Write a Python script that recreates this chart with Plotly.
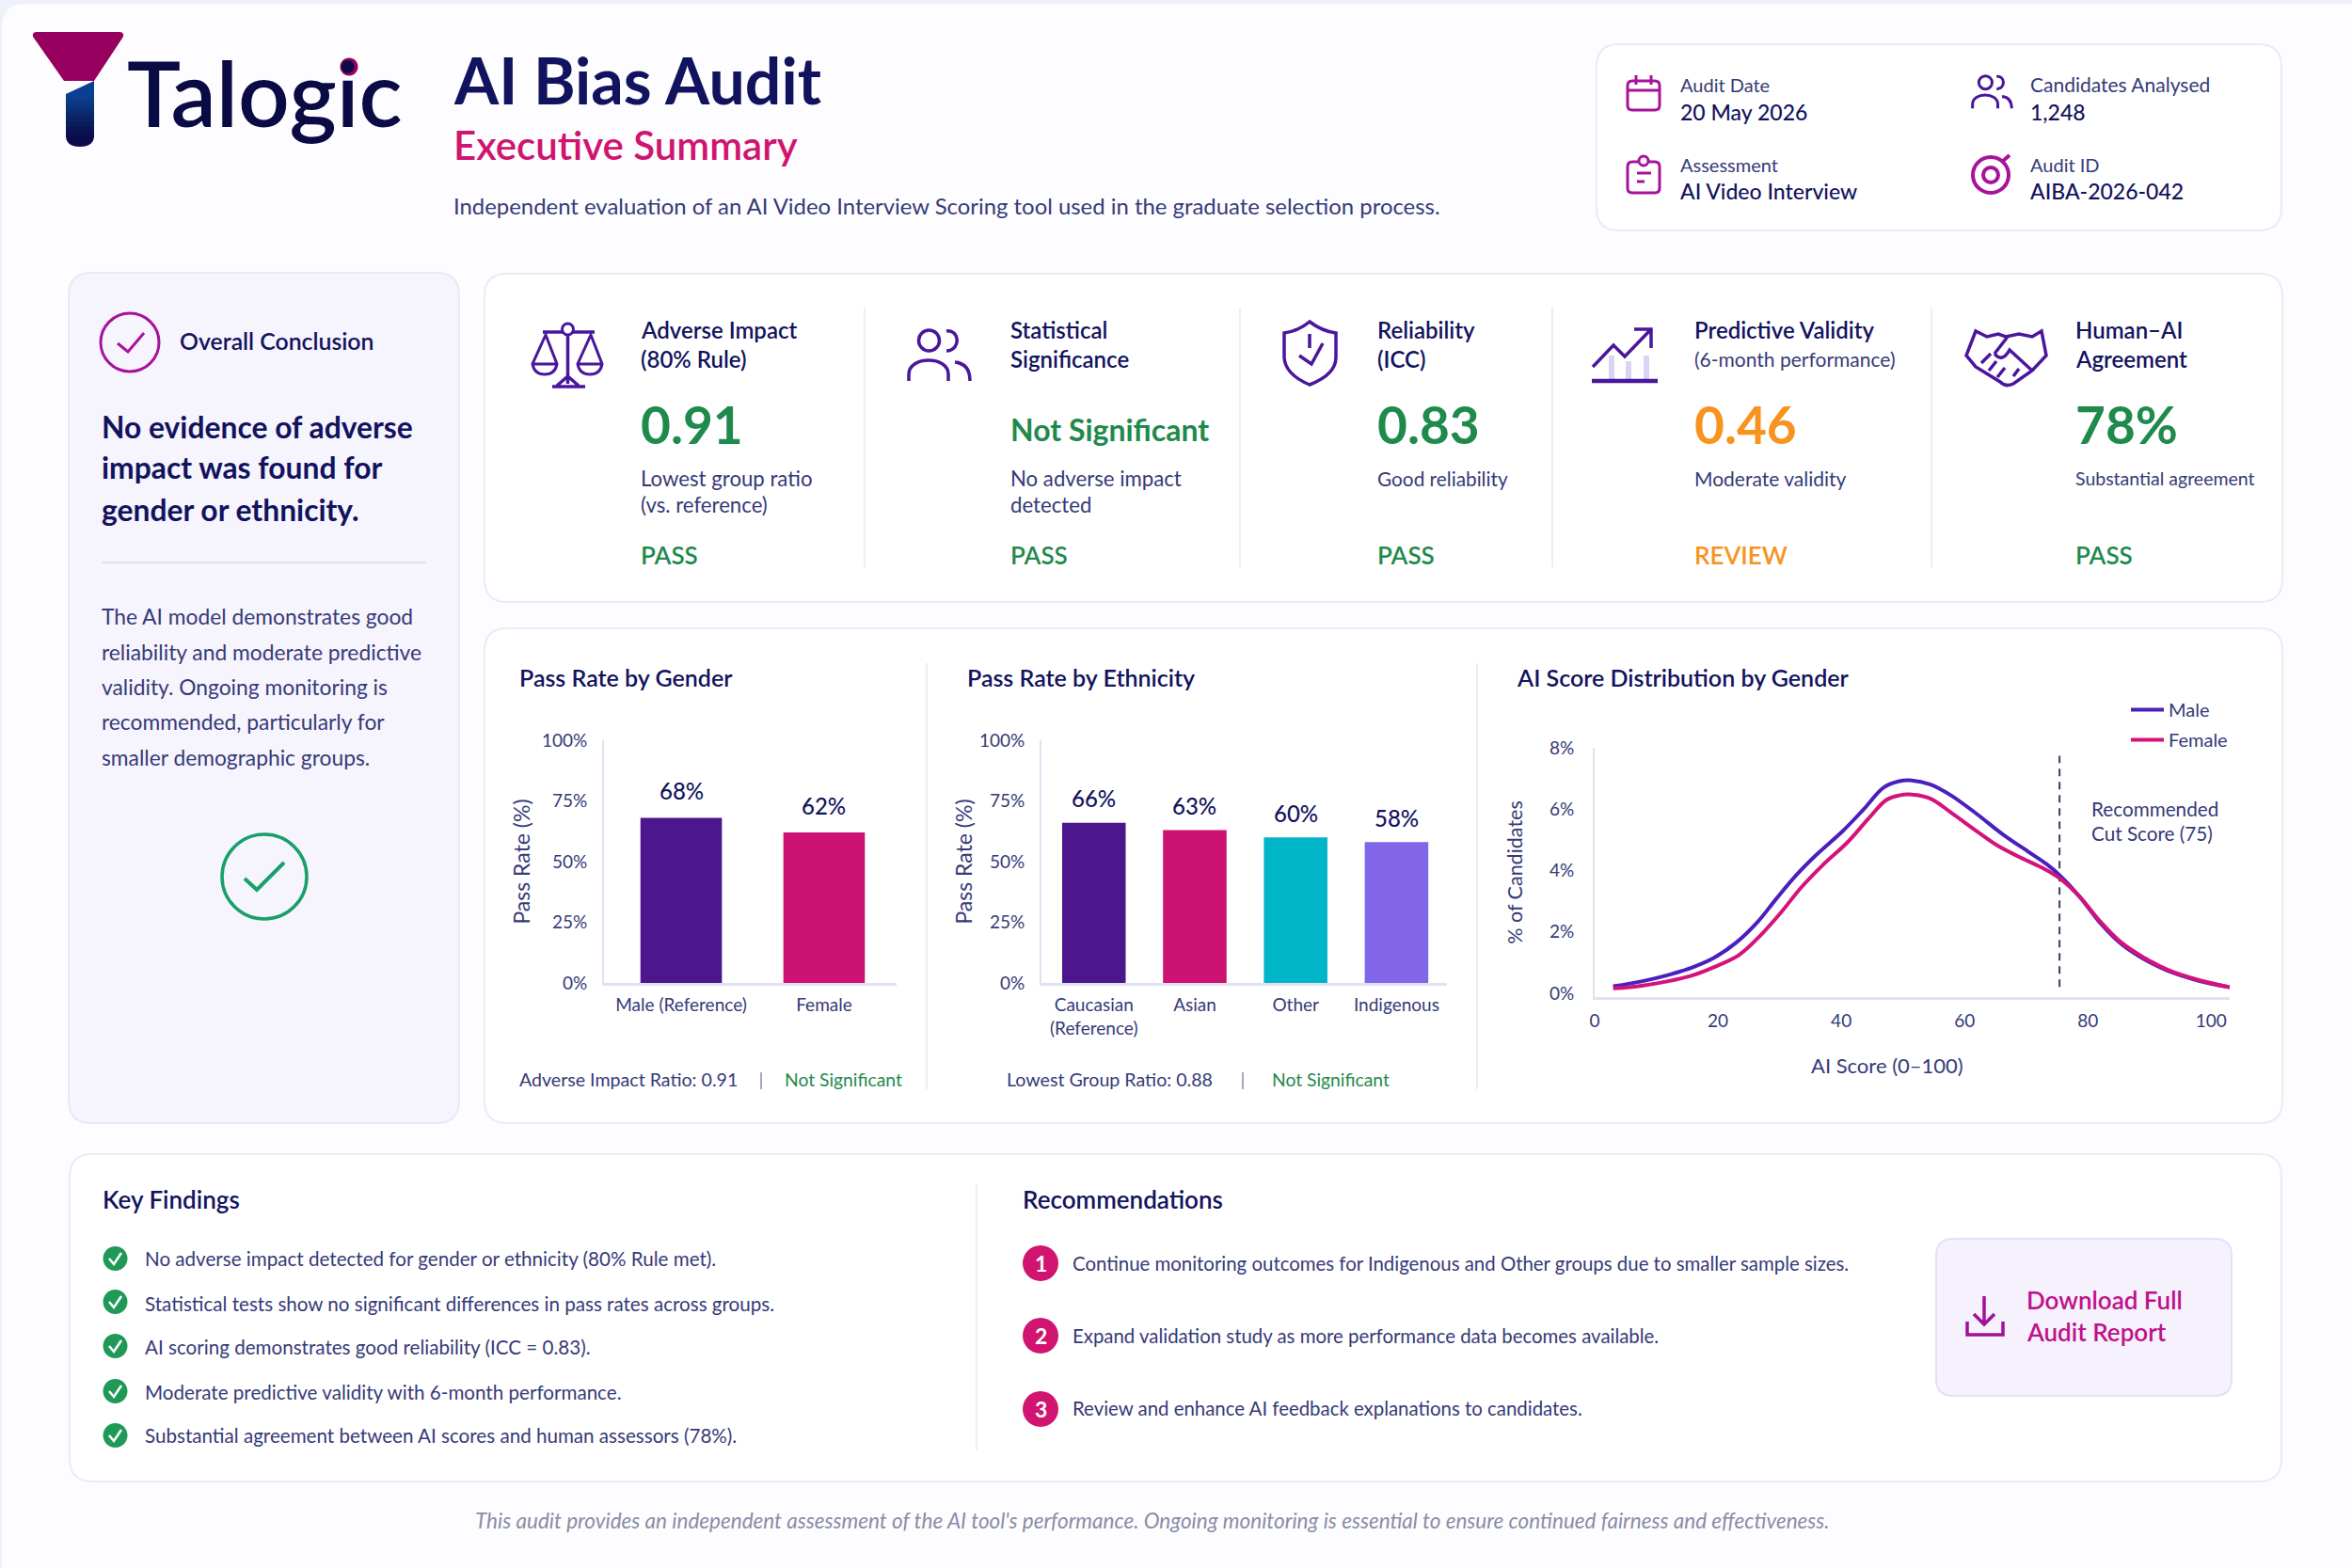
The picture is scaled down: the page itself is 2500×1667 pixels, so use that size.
import re
import plotly.graph_objects as go

W, H = 2500, 1667
FONT = "Lato"
NAVY = "#12135e"
BODY = "#363a78"
GREEN = "#1f8a4c"
ORANGE = "#f7931e"
PINK = "#d0146f"
PURPLE = "#4a169c"
MAGENTA = "#a8129b"
PANEL_LINE = "#e9ebf6"

# bar data
gender_groups = ["Male (Reference)", "Female"]
gender_rates = [68, 62]
gender_colors = ["#4c168c", "#cc1272"]
ethnicity_groups = ["Caucasian<br>(Reference)", "Asian", "Other", "Indigenous"]
ethnicity_rates = [66, 63, 60, 58]
ethnicity_colors = ["#4c168c", "#cc1272", "#00b5c8", "#8266e8"]

# score distribution curves
score_x_male = [3.0, 7.6, 11.75, 15.9, 19.3, 23.0, 26.4, 29.3, 32.7, 36.0, 40.2, 43.6, 46.9, 49.4, 51.1,
                54.4, 57.8, 62.0, 66.2, 70.3, 73.3, 75.4, 78.7, 82.1, 85.4, 88.8, 92.9, 98.0, 103.0]
score_male = [0.23, 0.39, 0.59, 0.85, 1.15, 1.66, 2.32, 3.04, 3.85, 4.52, 5.28, 5.99, 6.71, 6.91, 6.94,
              6.81, 6.45, 5.84, 5.18, 4.62, 4.21, 3.85, 3.14, 2.27, 1.61, 1.15, 0.74, 0.41, 0.20]
score_x_female = [3.0, 7.6, 11.75, 15.9, 19.3, 23.4, 26.8, 30.2, 33.5, 36.9, 41.0, 44.4, 47.3, 49.4, 51.1,
                  54.4, 57.8, 62.0, 65.3, 68.7, 72.4, 75.4, 78.7, 82.1, 85.4, 88.8, 92.9, 98.0, 103.0]
score_female = [0.16, 0.25, 0.39, 0.59, 0.85, 1.25, 1.87, 2.63, 3.45, 4.16, 4.92, 5.69, 6.30, 6.45, 6.48,
                6.35, 5.89, 5.28, 4.82, 4.46, 4.11, 3.75, 3.14, 2.32, 1.66, 1.20, 0.77, 0.43, 0.20]
cut_x = [75.4, 75.4]
cut_y = [0.21, 7.74]

# text content
kpi_titles = [["Adverse Impact", "(80% Rule)"], ["Statistical", "Significance"], ["Reliability", "(ICC)"],
              ["Predictive Validity", "(6-month performance)"], ["Human–AI", "Agreement"]]
kpi_values = ["0.91", "Not Significant", "0.83", "0.46", "78%"]
kpi_notes = [["Lowest group ratio", "(vs. reference)"], ["No adverse impact", "detected"], ["Good reliability"],
             ["Moderate validity"], ["Substantial agreement"]]
kpi_note_sizes = [22.2, 22.2, 20.8, 21, 19.5]
kpi_status = ["PASS", "PASS", "PASS", "REVIEW", "PASS"]
findings = ["No adverse impact detected for gender or ethnicity (80% Rule met).",
            "Statistical tests show no significant differences in pass rates across groups.",
            "AI scoring demonstrates good reliability (ICC = 0.83).",
            "Moderate predictive validity with 6-month performance.",
            "Substantial agreement between AI scores and human assessors (78%)."]
recommendations = ["Continue monitoring outcomes for Indigenous and Other groups due to smaller sample sizes.",
                   "Expand validation study as more performance data becomes available.",
                   "Review and enhance AI feedback explanations to candidates."]

shapes = []
notes = []


def to_paper(d, ox=0, oy=0, s=1):
    out = []
    is_x = True
    for tok in re.findall(r"[MLCQZ]|-?\d+\.?\d*", d):
        if tok in "MLCQZ":
            out.append(tok)
            is_x = True
        elif is_x:
            out.append(f"{(ox + float(tok) * s) / W:.5f}")
            is_x = False
        else:
            out.append(f"{1 - (oy + float(tok) * s) / H:.5f}")
            is_x = True
    return " ".join(out)


def draw(d, color=None, lw=3, fill=None, ox=0, oy=0, s=1):
    shapes.append(dict(type="path", xref="paper", yref="paper", layer="below", path=to_paper(d, ox, oy, s),
                       fillcolor=fill or "rgba(0,0,0,0)",
                       line=dict(color=color or "rgba(0,0,0,0)", width=lw if color else 0)))


def rrect(x0, y0, x1, y1, r):
    return (f"M{x0 + r},{y0} L{x1 - r},{y0} Q{x1},{y0} {x1},{y0 + r} L{x1},{y1 - r} Q{x1},{y1} {x1 - r},{y1} "
            f"L{x0 + r},{y1} Q{x0},{y1} {x0},{y1 - r} L{x0},{y0 + r} Q{x0},{y0} {x0 + r},{y0} Z")


def circ(cx, cy, r):
    k = 0.5523 * r
    return (f"M{cx + r},{cy} C{cx + r},{cy + k} {cx + k},{cy + r} {cx},{cy + r} "
            f"C{cx - k},{cy + r} {cx - r},{cy + k} {cx - r},{cy} "
            f"C{cx - r},{cy - k} {cx - k},{cy - r} {cx},{cy - r} "
            f"C{cx + k},{cy - r} {cx + r},{cy - k} {cx + r},{cy} Z")


def txt(x, y, text, size, color=BODY, weight=400, anchor="left", italic=False):
    notes.append(dict(xref="paper", yref="paper", x=(x - 1.5) / W, y=1 - (y - 2) / H, text=text, showarrow=False,
                      xanchor=anchor, yanchor="middle", align="left", borderpad=0,
                      font=dict(family=FONT, size=size, color=color, weight=weight,
                                style="italic" if italic else "normal")))


def people(ox, oy, s, color, lw):
    d = (circ(22.5, 12, 11) + " M41,2 C55,0 57,22 41,23 "
         "M1,55 L1,48 C1,28 43,28 43,48 L43,55 M50,35 C60,36 66,42 66,55")
    draw(d, color, lw, ox=ox, oy=oy, s=s)


# page and panels
draw(rrect(2, 4, 2520, 1690, 26), fill="#fdfdff")
draw(rrect(1697, 47, 2425, 245, 24), PANEL_LINE, 2, "#ffffff")
draw(rrect(73, 290, 488, 1194, 24), "#e9e8f6", 2, "#f6f4fd")
draw(rrect(515, 291, 2426, 640, 24), PANEL_LINE, 2, "#ffffff")
draw(rrect(515, 668, 2426, 1194, 24), PANEL_LINE, 2, "#ffffff")
draw(rrect(74, 1227, 2425, 1575, 24), PANEL_LINE, 2, "#ffffff")

# logo
draw("M39,34 L127,34 Q132,34 131,39 L100,86 L68,86 L35,39 Q34,34 39,34 Z", fill="#98005f")
stem = ["#0a3f92", "#0a3a88", "#0a347e", "#0a2e74", "#0a286a", "#0a2262", "#0a1c5a", "#0a1654", "#0a1050"]
for i, c in enumerate(stem):
    draw(f"M70,{100 + i * 5} L100,{100 + i * 5} L100,{106 + i * 5} L70,{106 + i * 5} Z", fill=c)
draw("M70,100 L100,86 L100,101 L70,101 Z", fill="#0a3f92")
draw("M70,144 L100,144 Q100,156 85,156 Q70,156 70,144 Z", fill="#0a0a4c")
txt(135, 100, "Talogic", 96, "#0a0a44", 600)
draw(circ(371, 71, 9.5), fill="#98005f")

# header text
txt(482, 87, "AI Bias Audit", 68, NAVY, 700)
txt(482, 156, "Executive Summary", 42, PINK, 600)
txt(482, 221, "Independent evaluation of an AI Video Interview Scoring tool used in the graduate selection process.", 23.9)

# info card
txt(1786, 92, "Audit Date", 20)
txt(1786, 121, "20 May 2026", 23, NAVY, 500)
txt(1786, 177, "Assessment", 20)
txt(1786, 205, "AI Video Interview", 23, NAVY, 500)
txt(2158, 92, "Candidates Analysed", 21)
txt(2158, 121, "1,248", 23, NAVY, 500)
txt(2158, 177, "Audit ID", 20)
txt(2158, 205, "AIBA-2026-042", 23, NAVY, 500)
draw(rrect(1730, 86, 1764, 117, 5) + " M1730,96 L1764,96 M1739,80 L1739,90 M1755,80 L1755,90", MAGENTA, 3)
draw(rrect(1730, 172, 1764, 205, 5) + " M1740,184 L1755,184 M1740,193 L1748,193", MAGENTA, 3)
draw(circ(1747, 171, 5), MAGENTA, 3, "#ffffff")
people(2096, 80, 0.64, PURPLE, 3)
draw(circ(2116, 186, 19) + " " + circ(2116, 186, 8) + " M2128,172 L2136,165", MAGENTA, 4)

# overall conclusion panel
draw(circ(138, 364, 31), MAGENTA, 3)
draw("M125,365 L136,374 L153,354", MAGENTA, 3)
txt(191, 364, "Overall Conclusion", 24.8, NAVY, 600)
for y, line in zip([456, 499, 544], ["No evidence of adverse", "impact was found for", "gender or ethnicity."]):
    txt(108, y, line, 31.8, NAVY, 700)
draw("M108,598 L453,598", "#e0dff0", 2)
body_lines = ["The AI model demonstrates good", "reliability and moderate predictive", "validity. Ongoing monitoring is",
              "recommended, particularly for", "smaller demographic groups."]
for y, line in zip([657, 695, 732, 769, 807], body_lines):
    txt(108, y, line, 22.8)
draw(circ(281, 932, 45), "#18a06a", 3.5)
draw("M260,934 L273,946 L302,917", "#18a06a", 4)

# KPI strip
kpi_x = [681, 1074, 1464, 1802, 2206]
for x in [919, 1318, 1650, 2053]:
    draw(f"M{x},327 L{x},603", "#eceef7", 2)
for i, x in enumerate(kpi_x):
    txt(x, 352, kpi_titles[i][0], 24, NAVY, 600)
    if i == 3:
        txt(x, 383, kpi_titles[i][1], 21, BODY)
    else:
        txt(x, 383, kpi_titles[i][1], 24, NAVY, 600)
    status_color = ORANGE if kpi_status[i] == "REVIEW" else GREEN
    if i == 1:
        txt(x, 458, kpi_values[i], 32, status_color, 700)
    else:
        txt(x, 453, kpi_values[i], 55, status_color, 700)
    for y, line in zip([510, 538], kpi_notes[i]):
        txt(x, y, line, kpi_note_sizes[i])
    txt(x, 592, kpi_status[i], 26, status_color, 600)

# scales
draw("M577,353 L632,353 M603.5,356 L603.5,408 M587,411 L622,411 M592,410 L603.5,400 L615,410", PURPLE, 3.5)
draw(circ(603.5, 350, 6), PURPLE, 3, "#ffffff")
for dx in [0, 48]:
    draw(f"M{580 + dx},356 L{566 + dx},387 Q{568 + dx},398 {579 + dx},398 Q{590 + dx},398 {592 + dx},387 Z "
         f"M{566 + dx},387 L{592 + dx},387", PURPLE, 3)
people(965, 350, 1.0, PURPLE, 3.5)
# shield
draw("M1392,342 Q1380,352 1365,354 L1365,380 Q1366,398 1392,409 Q1420,398 1420,380 L1420,354 Q1405,352 1392,342 Z "
     "M1381,378 L1394,387 L1406,365 M1392,355 L1392,370", PURPLE, 3.5)
# trend chart
for bx in [1713, 1731, 1750]:
    draw(f"M{bx},403 L{bx},{378 if bx != 1731 else 384}", "#dcd2f6", 6)
draw("M1692,405 L1762,405", PURPLE, 4.5)
draw("M1693,390 L1715,367 L1727,379 L1755,350 M1737,350 L1755,350 L1755,370", PURPLE, 3.5)
# handshake
draw("M2090,378 L2100,352 L2112,358 L2124,355 L2132,358 L2146,355 L2160,358 L2170,352 L2175,378 L2160,394 "
     "L2140,408 Q2132,412 2126,406 L2100,390 Z M2120,376 L2134,358 M2120,376 Q2128,386 2136,372 L2160,394 "
     "M2106,386 L2116,376 M2114,394 L2122,384 M2123,401 L2131,391 M2146,392 L2140,400", PURPLE, 3.5)

# chart panel text
draw("M985,705 L985,1158", "#eceef7", 2)
draw("M1570,705 L1570,1158", "#eceef7", 2)
txt(552, 722, "Pass Rate by Gender", 25, NAVY, 600)
txt(1028, 722, "Pass Rate by Ethnicity", 25, NAVY, 600)
txt(1613, 722, "AI Score Distribution by Gender", 25, NAVY, 600)
txt(552, 1149, "Adverse Impact Ratio: 0.91", 19.6)
txt(834, 1149, "Not Significant", 19.3, GREEN)
txt(1070, 1149, "Lowest Group Ratio: 0.88", 19.6)
txt(1352, 1149, "Not Significant", 19.3, GREEN)
draw("M809,1140 L809,1158 M1321,1140 L1321,1158", "#8a8cb5", 1.5)
txt(2223, 862, "Recommended", 20.7)
txt(2223, 888, "Cut Score (75)", 20.7)
txt(2007, 1134, "AI Score (0–100)", 22, anchor="center")

# findings
txt(109, 1277, "Key Findings", 26, NAVY, 600)
for y, ty, line in zip([1338, 1384, 1431, 1479, 1526], [1340, 1388, 1434, 1482, 1528], findings):
    draw(circ(122.5, y, 13), fill="#1f9a56")
    draw(f"M116,{y} L121,{y + 6} L129,{y - 6}", "#ffffff", 2.5)
    txt(154, ty, line, 20.6)
draw("M1038,1258 L1038,1542", "#eceef7", 2)

# recommendations
txt(1087, 1277, "Recommendations", 26, NAVY, 600)
for i, (y, ty, line) in enumerate(zip([1343, 1420, 1498], [1345, 1422, 1499], recommendations)):
    draw(circ(1106, y, 19), fill=PINK)
    txt(1107.5, y + 2, str(i + 1), 23, "#ffffff", 700, anchor="center")
    txt(1140, ty, line, 20.4)
draw(rrect(2058, 1317, 2372, 1484, 18), "#e5dff6", 2, "#f5f1fd")
draw("M2109,1378 L2109,1408 M2098,1397 L2109,1408 L2120,1397 M2091,1405 L2091,1419 L2129,1419 L2129,1405", "#a0109a", 3.5)
txt(2154, 1384, "Download Full", 26, "#c0108a", 600)
txt(2154, 1418, "Audit Report", 26, "#c0108a", 600)

txt(1226, 1618, "This audit provides an independent assessment of the AI tool's performance. "
                "Ongoing monitoring is essential to ensure continued fairness and effectiveness.",
    22.5, "#8a8ca5", italic=True, anchor="center")

fig = go.Figure()
fig.add_trace(go.Bar(x=gender_groups, y=gender_rates, width=0.57, marker=dict(color=gender_colors, line_width=0),
                     showlegend=False, xaxis="x", yaxis="y"))
fig.add_trace(go.Bar(x=ethnicity_groups, y=ethnicity_rates, width=0.63,
                     marker=dict(color=ethnicity_colors, line_width=0), showlegend=False, xaxis="x2", yaxis="y2"))
fig.add_trace(go.Scatter(x=cut_x, y=cut_y, mode="lines", line=dict(color="#3a3d63", width=2, dash="8px,6px"),
                         showlegend=False, xaxis="x3", yaxis="y3"))
fig.add_trace(go.Scatter(x=score_x_male, y=score_male, mode="lines", name="Male", legendgroup="m",
                         line=dict(color="#4a1fc0", width=4, shape="spline"), xaxis="x3", yaxis="y3"))
fig.add_trace(go.Scatter(x=score_x_female, y=score_female, mode="lines", name="Female", legendgroup="f",
                         line=dict(color="#d4127a", width=4, shape="spline"), xaxis="x3", yaxis="y3"))

for groups, rates, xa, ya, shift in [(gender_groups, gender_rates, "x", "y", 29),
                                     (ethnicity_groups, ethnicity_rates, "x2", "y2", 26)]:
    for g, r in zip(groups, rates):
        notes.append(dict(xref=xa, yref=ya, x=g, y=r, text=f"{r}%", showarrow=False, yshift=shift, yanchor="middle",
                          font=dict(family=FONT, size=24, color=NAVY, weight=500)))

tick_font = dict(family=FONT, size=19, color=BODY)


def x_axis(left, right, rng, label_gap, **kw):
    return dict(domain=[left / W, right / W], range=rng, showgrid=False, zeroline=False, showline=True,
                linecolor="#e0e2f2", linewidth=3, ticks="", tickfont=tick_font, ticklabelstandoff=label_gap,
                fixedrange=True, automargin=False, **kw)


def y_axis(top, bottom, rng, vals, text, anchor, title, size, standoff, label_gap):
    return dict(domain=[1 - bottom / H, 1 - top / H], range=rng, tickvals=vals, ticktext=text, showgrid=False,
                zeroline=False, showline=True, linecolor="#e0e2f2", linewidth=2, ticks="", tickfont=tick_font,
                ticklabelstandoff=label_gap, fixedrange=True, automargin=False, anchor=anchor,
                title=dict(text=title, standoff=standoff, font=dict(family=FONT, size=size, color=BODY)))


pct_vals = [0, 25, 50, 75, 100]
pct_text = ["0%", "25%", "50%", "75%", "100%"]
score_y_vals = [0, 2, 4, 6, 8]
score_y_text = ["0%", "2%", "4%", "6%", "8%"]

fig.update_layout(
    width=W, height=H, margin=dict(l=0, r=0, t=0, b=0), paper_bgcolor="#eff1fa", plot_bgcolor="rgba(0,0,0,0)",
    hovermode=False, shapes=shapes, annotations=notes, font=dict(family=FONT),
    legend=dict(x=2260 / W, y=1 - 735 / H, xanchor="left", yanchor="top", bgcolor="rgba(0,0,0,0)",
                font=dict(family=FONT, size=20, color=BODY), itemwidth=35, tracegroupgap=3),
    xaxis=x_axis(642, 953, [-0.54, 1.507], 4, anchor="y", type="category"),
    yaxis=y_axis(787, 1045, [0, 100], pct_vals, pct_text, "x", "Pass Rate (%)", 23, 6, 12),
    xaxis2=x_axis(1107, 1538, [-0.52, 3.5], 4, anchor="y2", type="category"),
    yaxis2=y_axis(787, 1045, [0, 100], pct_vals, pct_text, "x2", "Pass Rate (%)", 23, 1, 12),
    xaxis3=x_axis(1695, 2370, [0, 103], 6, anchor="y3", tickvals=[0, 20, 40, 60, 80, 100]),
    yaxis3=y_axis(795, 1060, [-0.12, 8], score_y_vals, score_y_text, "x3", "% of Candidates", 21.5, 22, 16),
)

fig.write_html("out.html", config=dict(displayModeBar=False),
               post_script="document.body.style.margin='0';document.body.style.overflow='hidden';")
